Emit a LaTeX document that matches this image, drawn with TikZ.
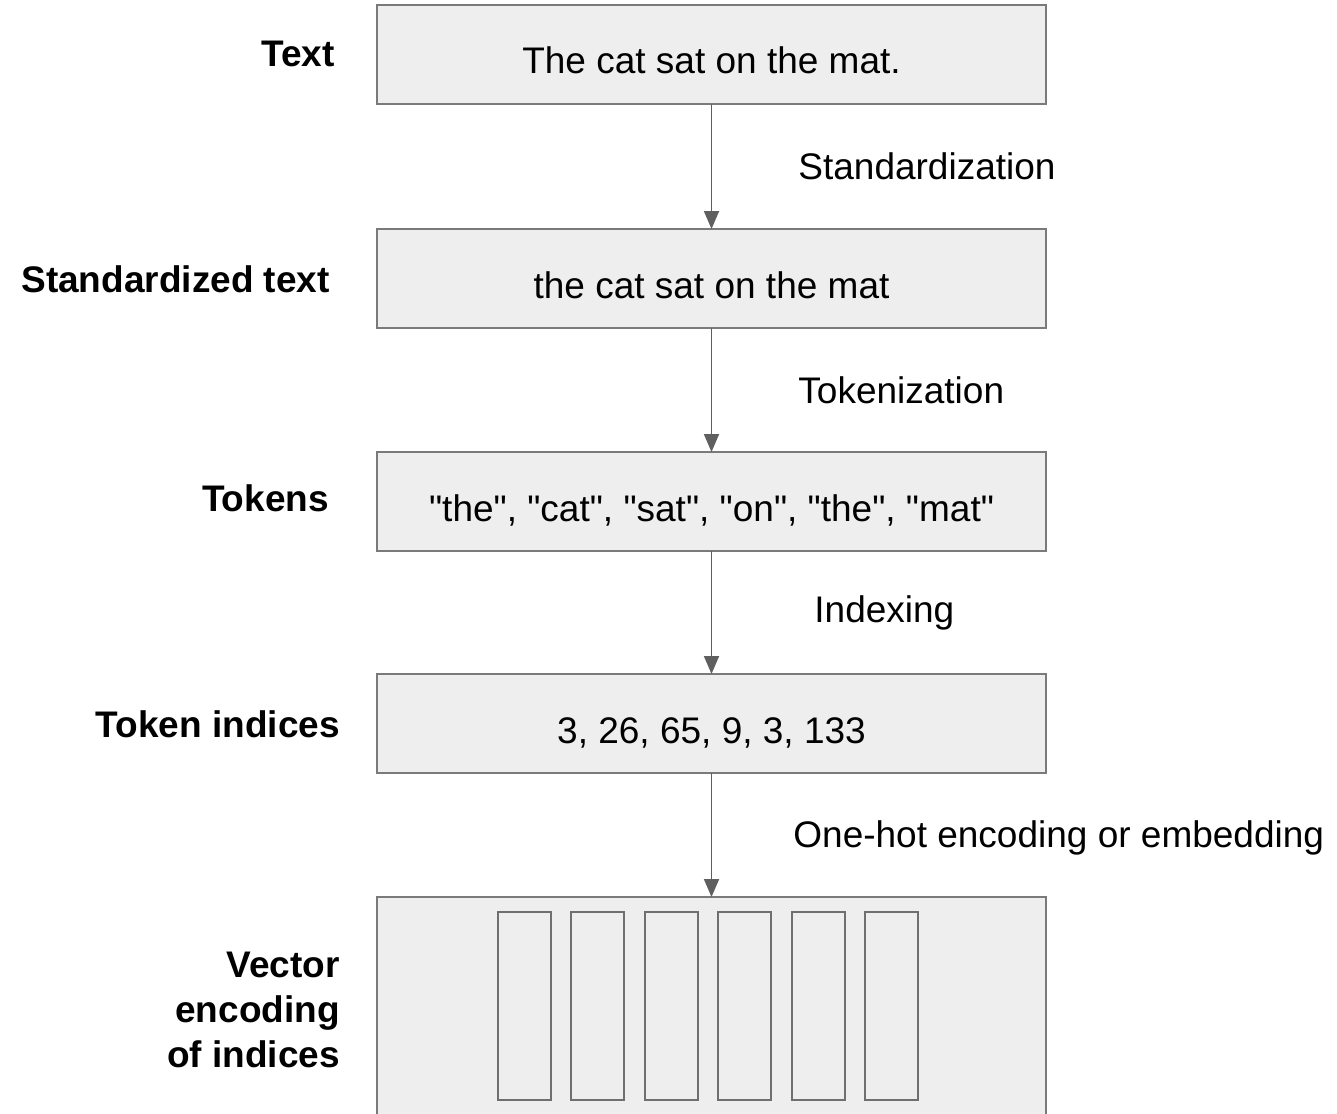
\documentclass[tikz,border=0pt]{standalone}
\usepackage{fontspec}
\setmainfont{Liberation Sans}
\usetikzlibrary{arrows.meta, positioning}
\definecolor{boxfill}{HTML}{EEEEEE}
\definecolor{boxline}{HTML}{7A7A7A}
\definecolor{arrowgray}{HTML}{5F5F5F}
\tikzset{
    stage/.style = {rectangle, minimum width=669pt, minimum height=99pt, align=center, draw=boxline, line width=1.6pt, fill=boxfill, inner sep=0pt, outer sep=0pt, text height=39pt, text depth=0pt},
    slot/.style = {rectangle, minimum width=53pt, minimum height=188pt, draw=arrowgray!90, line width=2pt, fill=boxfill, inner sep=0pt},
    tag/.style = {font=\fontsize{37}{45}\selectfont\bfseries, anchor=east, align=right, inner sep=0pt},
    steplabel/.style = {midway, anchor=west, inner sep=0pt},
    arrow/.style = {draw=arrowgray, line width=1.8pt, -{Triangle[length=18pt, width=15pt]}}
}

\begin{document}
\begin{tikzpicture}[x=1pt, y=-1pt, font=\fontsize{37}{45}\selectfont]
\clip (0,0) rectangle (1337,1113);
\useasboundingbox (0,0) rectangle (1337,1113);
\node[stage] (txt) at (711.5,54.5) {The cat sat on the mat.};
\node[stage, below=125pt of txt] (std) {the cat sat on the mat};
\node[stage, below=124pt of std] (tok) {\textquotedbl the\textquotedbl, \textquotedbl cat\textquotedbl, \textquotedbl sat\textquotedbl, \textquotedbl on\textquotedbl, \textquotedbl the\textquotedbl, \textquotedbl mat\textquotedbl};
\node[stage, below=123pt of tok] (idx) {3, 26, 65, 9, 3, 133};
\node[stage, minimum height=240pt, below=124pt of idx] (vec) {};

% one slot per token
\foreach \i in {0,...,5}
    \node[slot] (v\i) at (524.5+73.4*\i,1006) {};

\node[tag] (ltxt) at (335,54) {Text};
\node[tag] (lstd) at (330,279) {Standardized text};
\node[tag] (ltok) at (329,498) {Tokens};
\node[tag] (lidx) at (340,724) {Token indices};
\node[tag] (lvec) at (340,1010) {Vector\\encoding\\of indices};

\draw[arrow] (txt) -- node[steplabel, xshift=86pt]{Standardization} (std);
\draw[arrow] (std) -- node[steplabel, xshift=86pt]{Tokenization} (tok);
\draw[arrow] (tok) -- node[steplabel, xshift=102pt]{Indexing} (idx);
\draw[arrow] (idx) -- node[steplabel, xshift=81pt, yshift=-3pt]{One-hot encoding or embedding} (vec);
\end{tikzpicture}
\end{document}
